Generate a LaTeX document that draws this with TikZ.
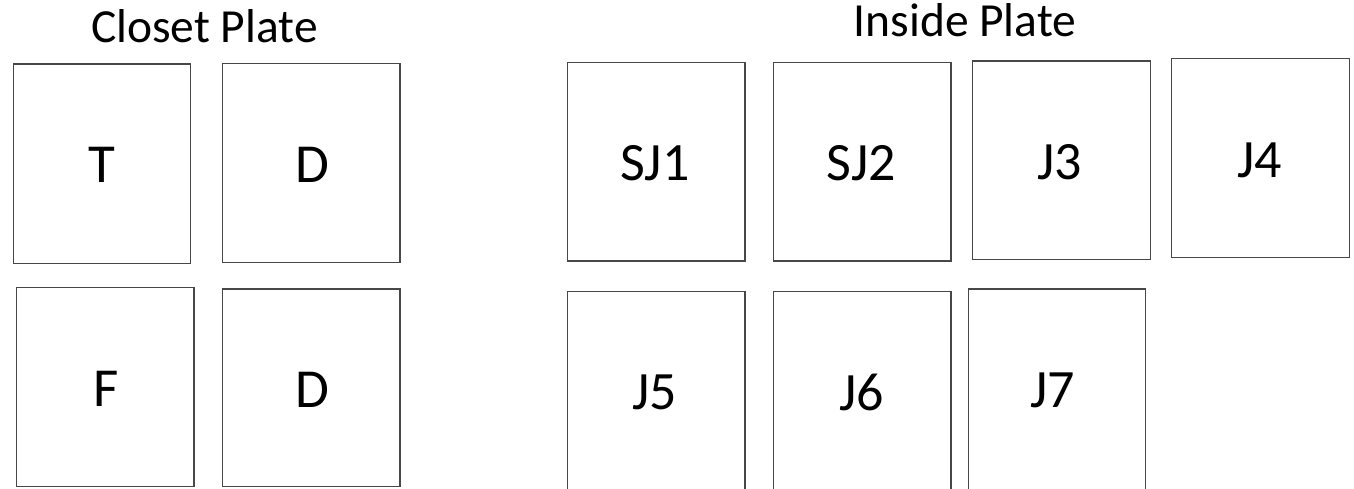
\documentclass[tikz,border=0pt]{standalone}
\usepackage{fontspec}
\setmainfont{Carlito}
\tikzset{
  plate/.style={draw=black!72, line width=1.1pt, fill=none, inner sep=0pt, outer sep=0pt},
  biglbl/.style={inner sep=0pt, font=\fontsize{55}{60}\selectfont},
  smlbl/.style={inner sep=0pt, font=\fontsize{54}{60}\selectfont},
  ttl/.style={inner sep=0pt, anchor=base, font=\fontsize{47.5}{52}\selectfont}
}
\begin{document}
\begin{tikzpicture}[x=1pt,y=-1pt]
\useasboundingbox (0,0) rectangle (1354,488);
\clip (0,0) rectangle (1354,488);
% titles
\node[ttl] (tclo) at (204.5,42.5) {Closet Plate};
\node[ttl] (tins) at (965,36) {Inside Plate};
% closet plate boxes
\draw[plate] (13.3,64) rectangle (190.7,263.3) node[pos=0.5,inner sep=0pt] (bT) {};
\draw[plate] (222.3,63.3) rectangle (400,262.3) node[pos=0.5,inner sep=0pt] (bD1) {};
\draw[plate] (16.7,287.3) rectangle (194,486.7) node[pos=0.5,inner sep=0pt] (bF) {};
\draw[plate] (222.3,289) rectangle (400,486.7) node[pos=0.5,inner sep=0pt] (bD2) {};
% inside plate boxes
\draw[plate] (567.3,62.3) rectangle (745,261) node[pos=0.5,inner sep=0pt] (bSJ1) {};
\draw[plate] (773.7,62.3) rectangle (951,261) node[pos=0.5,inner sep=0pt] (bSJ2) {};
\draw[plate] (972.7,61) rectangle (1150.7,259.3) node[pos=0.5,inner sep=0pt] (bJ3) {};
\draw[plate] (1171.7,58.7) rectangle (1349.3,257.3) node[pos=0.5,inner sep=0pt] (bJ4) {};
\draw[plate] (567.3,291.7) rectangle (745,492) node[pos=0.5,inner sep=0pt] (bJ5) {};
\draw[plate] (773.7,291.7) rectangle (951,492) node[pos=0.5,inner sep=0pt] (bJ6) {};
\draw[plate] (968.3,289) rectangle (1145.7,492) node[pos=0.5,inner sep=0pt] (bJ7) {};
% labels
\node[biglbl] (lT) at (102.2,165) {T};
\node[biglbl] (lD1) at (312,165) {D};
\node[biglbl] (lF) at (105.8,388.8) {F};
\node[biglbl] (lD2) at (312,390) {D};
\node[smlbl] (lSJ1) at (655,163) {SJ1};
\node[smlbl] (lSJ2) at (861.3,163) {SJ2};
\node[smlbl] (lJ3) at (1060,162) {J3};
\node[smlbl] (lJ4) at (1260,160) {J4};
\node[smlbl] (lJ5) at (655,392.5) {J5};
\node[smlbl] (lJ6) at (861.7,392.5) {J6};
\node[smlbl] (lJ7) at (1053,390) {J7};
\end{tikzpicture}
\end{document}
